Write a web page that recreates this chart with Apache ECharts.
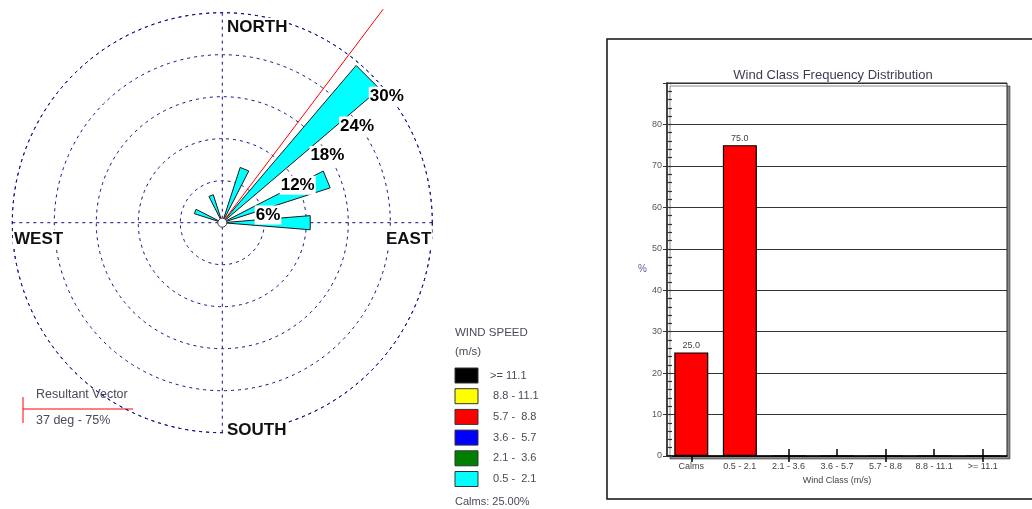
<!DOCTYPE html>
<html>
<head>
<meta charset="utf-8">
<title>Wind Rose and Wind Class Frequency Distribution</title>
<script src="https://cdn.jsdelivr.net/npm/echarts@6/dist/echarts.min.js"></script>
<style>
  html, body { margin: 0; padding: 0; background: #fff; }
  #chart { width: 1032px; height: 509px; }
</style>
</head>
<body>
<div id="chart"></div>
<script>
// ---- Wind rose data (percent of time, wind blowing from each of 16 sectors) ----
const DIRECTIONS = ['N', 'NNE', 'NE', 'ENE', 'E', 'ESE', 'SE', 'SSE',
                    'S', 'SSW', 'SW', 'WSW', 'W', 'WNW', 'NW', 'NNW'];
const PETAL_PCT  = [0, 8.3, 29.5, 16.2, 12.6, 0, 0, 0,
                    0, 0, 0, 0, 0, 4.2, 0, 4.2];
const RING_TICKS = [6, 12, 18, 24, 30];
const CALMS_PCT = 25.0;
const RESULTANT_DIR = 37;     // degrees
const RESULTANT_PCT = 75;     // percent
const RESULTANT_REACH = 38.2; // drawn length of the vector, in ring units

// ---- Wind speed classes (legend) ----
const SPEED_LABELS = ['>= 11.1', ' 8.8 - 11.1', ' 5.7 -  8.8', ' 3.6 -  5.7', ' 2.1 -  3.6', ' 0.5 -  2.1'];
const SPEED_COLORS = ['#000000', '#FFFF00', '#FF0000', '#0000FF', '#008000', '#00FFFF'];

// ---- Wind class frequency distribution ----
const WIND_CLASSES = ['Calms', '0.5 - 2.1', '2.1 - 3.6', '3.6 - 5.7', '5.7 - 8.8', '8.8 - 11.1', '>= 11.1'];
const CLASS_PCT = [25.0, 75.0, 0, 0, 0, 0, 0];

const FONT = '"Liberation Sans", Arial, Helvetica, sans-serif';
const NAVY = '#101080';
const TEXT_GREY = '#4a4a5a';
const SECTOR_WIDTH = 360 / DIRECTIONS.length;
const PETAL_HALF = 4.6; // half-width of a petal, degrees

const chart = echarts.init(document.getElementById('chart'), null, { renderer: 'canvas' });

const dashed = { color: NAVY, width: 1, type: [3, 4] };

// petals: triangle from the centre out to the percentage ring
function renderPetal(params, api) {
  const r = api.value(0);
  const a = api.value(1);
  const c = api.coord([0, a]);
  const p1 = api.coord([r, a - PETAL_HALF]);
  const p2 = api.coord([r, a + PETAL_HALF]);
  return {
    type: 'polygon',
    shape: { points: [c, p1, p2] },
    style: { fill: '#00FFFF', stroke: '#1a1a1a', lineWidth: 1 }
  };
}

function renderVector(params, api) {
  const a = api.value(1);
  const c = api.coord([0, a]);
  const e = api.coord([api.value(0), a]);
  return {
    type: 'line',
    shape: { x1: c[0], y1: c[1], x2: e[0], y2: e[1] },
    style: { stroke: '#FF0000', lineWidth: 1 }
  };
}

const petalData = PETAL_PCT
  .map((v, i) => [v, i * SECTOR_WIDTH])
  .filter(d => d[0] > 0);

// legend graphics for the wind speed classes
const legendGraphics = [
  { type: 'text', left: 455, top: 327, style: { text: 'WIND SPEED', font: '11.5px ' + FONT, fill: TEXT_GREY } },
  { type: 'text', left: 455, top: 346, style: { text: '(m/s)', font: '11.5px ' + FONT, fill: TEXT_GREY } }
];
SPEED_LABELS.forEach((lab, i) => {
  const y = 368 + i * 20.7;
  legendGraphics.push({
    type: 'rect', shape: { x: 455, y: y, width: 23, height: 15 },
    style: { fill: SPEED_COLORS[i], stroke: '#333', lineWidth: 1 }
  });
  legendGraphics.push({
    type: 'text', x: 490, y: y + 7.5,
    style: { text: lab, font: '11px ' + FONT, fill: TEXT_GREY, textVerticalAlign: 'middle' }
  });
});
legendGraphics.push({
  type: 'text', x: 455, y: 501.5,
  style: { text: 'Calms: ' + CALMS_PCT.toFixed(2) + '%', font: '11px ' + FONT, fill: TEXT_GREY, textVerticalAlign: 'middle' }
});

// compass labels
function compass(text, x, y) {
  return {
    type: 'text', x: x, y: y, z: 10,
    style: {
      text: text, font: 'bold 17px ' + FONT, fill: '#111',
      textVerticalAlign: 'middle', backgroundColor: '#fff', padding: [1, 1]
    }
  };
}

const option = {
  animation: false,
  backgroundColor: '#ffffff',
  textStyle: { fontFamily: FONT },
  title: {
    text: 'Wind Class Frequency Distribution',
    left: 828, top: 64, textAlign: 'center',
    textStyle: { fontSize: 13, fontWeight: 'normal', color: '#3c3c55', fontFamily: FONT }
  },
  polar: { center: [222.3, 222.7], radius: 210 },
  angleAxis: {
    type: 'value', min: 0, max: 360, interval: 90,
    startAngle: 90, clockwise: true,
    axisLine: { show: true, lineStyle: dashed },
    axisTick: { show: false },
    axisLabel: { show: false },
    splitLine: { show: true, lineStyle: dashed }
  },
  radiusAxis: {
    type: 'value', min: 0, max: 30, interval: 6,
    axisLine: { show: false },
    axisTick: { show: false },
    axisLabel: { show: false },
    splitLine: { show: true, lineStyle: dashed }
  },
  grid: {
    left: 667, top: 83, right: 25, bottom: 53,
    show: true, backgroundColor: '#fff',
    borderColor: '#222', borderWidth: 1,
    shadowColor: 'rgba(0,0,0,0.45)', shadowBlur: 0, shadowOffsetX: 3, shadowOffsetY: 3
  },
  xAxis: [
    {
      type: 'category', data: WIND_CLASSES, position: 'bottom',
      axisLine: { lineStyle: { color: '#000', width: 1.5 } },
      axisTick: { show: true, alignWithLabel: true, inside: true, length: 7, lineStyle: { color: '#000', width: 1.5 } },
      axisLabel: { fontSize: 9, color: '#444', margin: 6, interval: 0, fontFamily: FONT },
      name: 'Wind Class (m/s)', nameLocation: 'middle', nameGap: 16,
      nameTextStyle: { fontSize: 9, color: '#444', fontFamily: FONT }
    },
    {
      type: 'category', data: WIND_CLASSES, position: 'bottom',
      axisLine: { show: false },
      axisTick: { show: true, alignWithLabel: true, length: 6, lineStyle: { color: '#000', width: 1.5 } },
      axisLabel: { show: false }
    }
  ],
  yAxis: [
    {
      type: 'value', min: 0, max: 90, interval: 10, position: 'left',
      axisLine: { show: true, lineStyle: { color: '#444', width: 2 } },
      axisTick: { show: true, length: 4, lineStyle: { color: '#333', width: 1 } },
      axisLabel: { fontSize: 9, color: '#555', margin: 5, fontFamily: FONT,
                   formatter: v => (v >= 90 ? '' : String(v)) },
      splitLine: { show: true, lineStyle: { color: '#333', width: 1.2 } },
      name: '%', nameLocation: 'middle', nameRotate: 0, nameGap: 20,
      nameTextStyle: { fontSize: 10, color: '#5a5a9a', fontFamily: FONT }
    },
    {
      // inner minor ticks every 2 %
      type: 'value', min: 0, max: 90, interval: 10, position: 'left',
      axisLine: { show: false },
      axisTick: { show: true, inside: true, length: 5, lineStyle: { color: '#333', width: 1.2 } },
      minorTick: { show: true, splitNumber: 5, length: 5, lineStyle: { color: '#333', width: 1.2 } },
      axisLabel: { show: false },
      splitLine: { show: false }
    }
  ],
  series: [
    {
      name: 'petals', type: 'custom', coordinateSystem: 'polar',
      renderItem: renderPetal, data: petalData, z: 2, silent: true
    },
    {
      name: 'resultant', type: 'custom', coordinateSystem: 'polar',
      renderItem: renderVector, data: [[RESULTANT_REACH, RESULTANT_DIR]], z: 3, silent: true
    },
    {
      name: 'rings', type: 'scatter', coordinateSystem: 'polar',
      data: RING_TICKS.map(v => [v, 45]), symbolSize: 0, z: 4, silent: true,
      itemStyle: { opacity: 1 },
      label: {
        show: true, position: 'inside', offset: [16, 22],
        formatter: p => p.value[0] + '%',
        fontSize: 17, fontWeight: 'bold', color: '#000', fontFamily: FONT,
        backgroundColor: '#fff', padding: [2, 1, 0, 1]
      }
    },
    {
      name: 'calms', type: 'scatter', coordinateSystem: 'polar',
      data: [[0, 0]], symbol: 'circle', symbolSize: 9, z: 5, silent: true,
      itemStyle: { color: '#fff', borderColor: '#444', borderWidth: 1, opacity: 1 }
    },
    {
      name: 'frequency', type: 'bar', xAxisIndex: 0, yAxisIndex: 0,
      data: CLASS_PCT, barWidth: 34,
      itemStyle: { color: '#FF0000', borderColor: '#000', borderWidth: 1.2 },
      label: {
        show: true, position: 'top', distance: 2, fontSize: 9, color: '#444', fontFamily: FONT,
        formatter: p => (p.value > 0 ? p.value.toFixed(1) : '')
      }
    }
  ],
  graphic: [
    compass('NORTH', 226, 27.5),
    compass('EAST', 385, 239),
    compass('WEST', 13, 239),
    compass('SOUTH', 226, 430),
    // resultant vector key
    { type: 'line', shape: { x1: 23, y1: 409, x2: 133, y2: 409 }, style: { stroke: '#FF0000', lineWidth: 1 } },
    { type: 'line', shape: { x1: 23, y1: 397, x2: 23, y2: 423 }, style: { stroke: '#FF0000', lineWidth: 1 } },
    { type: 'text', x: 36, y: 394.5, style: { text: 'Resultant Vector', font: '12.5px ' + FONT, fill: TEXT_GREY, textVerticalAlign: 'middle' } },
    { type: 'text', x: 36, y: 421, style: { text: RESULTANT_DIR + ' deg - ' + RESULTANT_PCT + '%', font: '12.5px ' + FONT, fill: TEXT_GREY, textVerticalAlign: 'middle' } },
    // frame around the frequency chart
    { type: 'rect', shape: { x: 607, y: 39, width: 440, height: 460 }, style: { fill: 'none', stroke: '#111', lineWidth: 1.5 } }
  ].concat(legendGraphics)
};

chart.setOption(option);
</script>
</body>
</html>
